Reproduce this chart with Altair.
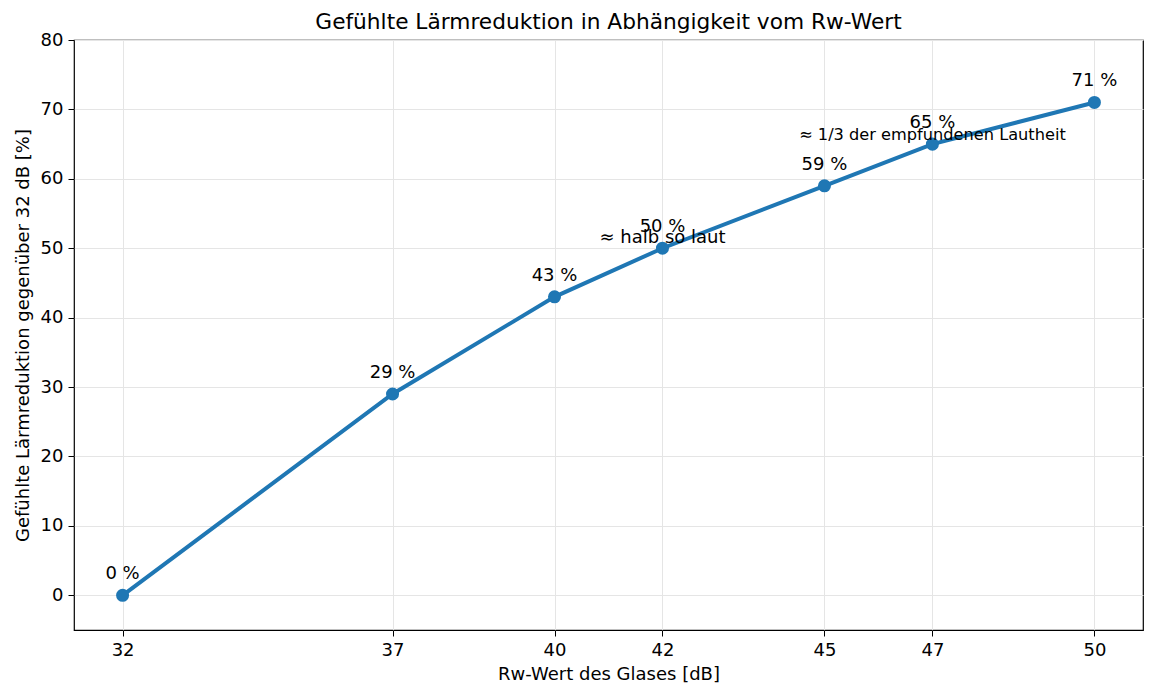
import altair as alt
import pandas as pd

rw = [32, 37, 40, 42, 45, 47, 50]
reduction = [0, 29, 43, 50, 59, 65, 71]
labels = [f"{v} %" for v in reduction]

note_x = [42, 47]
note_y = [50, 65]
note_text = ["≈ halb so laut", "≈ 1/3 der empfundenen Lautheit"]
note_size = [18, 16.2]

df = pd.DataFrame({"rw": rw, "red": reduction, "label": labels})
notes = pd.DataFrame({"x": note_x, "y": note_y, "t": note_text, "s": note_size})

FONT = "DejaVu Sans"
FS = 18
xs = alt.Scale(domain=[31.1, 50.9], nice=False, zero=False)
ys = alt.Scale(domain=[-5, 80], nice=False, zero=False)

xaxis = alt.Axis(values=rw, title="Rw-Wert des Glases [dB]", format="d",
                 grid=True, gridColor="#e5e5e5", gridWidth=1,
                 domain=False, tickColor="black", tickSize=6, labelPadding=5,
                 labelFontSize=FS, labelColor="black", titleFontSize=FS,
                 titleColor="black", titleFontWeight="normal", titlePadding=6,
                 labelFont=FONT, titleFont=FONT)
yaxis = alt.Axis(values=list(range(0, 81, 10)),
                 title="Gefühlte Lärmreduktion gegenüber 32 dB [%]",
                 grid=True, gridColor="#e5e5e5", gridWidth=1,
                 domain=False, tickColor="black", tickSize=6, labelPadding=5,
                 labelFontSize=FS, labelColor="black", titleFontSize=FS,
                 titleColor="black", titleFontWeight="normal", titlePadding=8,
                 labelFont=FONT, titleFont=FONT)

base = alt.Chart(df)
line = base.mark_line(color="#1f77b4", strokeWidth=4).encode(
    x=alt.X("rw:Q", scale=xs, axis=xaxis),
    y=alt.Y("red:Q", scale=ys, axis=yaxis),
)
pts = base.mark_circle(color="#1f77b4", size=170, opacity=1).encode(
    x=alt.X("rw:Q", scale=xs), y=alt.Y("red:Q", scale=ys)
)
txt = base.mark_text(font=FONT, fontSize=FS, color="black", baseline="bottom",
                     dy=-12).encode(
    x=alt.X("rw:Q", scale=xs), y=alt.Y("red:Q", scale=ys), text="label:N"
)
note = alt.Chart(notes).mark_text(font=FONT, color="black", baseline="bottom",
                                  dy=-1).encode(
    x=alt.X("x:Q", scale=xs), y=alt.Y("y:Q", scale=ys), text="t:N",
    size=alt.Size("s:Q", scale=None, legend=None)
)

chart = alt.layer(line, pts, txt, note).properties(
    width=1069, height=590,
    title=alt.TitleParams("Gefühlte Lärmreduktion in Abhängigkeit vom Rw-Wert",
                          font=FONT, fontSize=21.7, fontWeight="normal",
                          color="black", offset=-3),
    autosize=alt.AutoSizeParams(type="none"),
    padding={"left": 66, "top": 32, "right": 6, "bottom": 62},
).configure_view(stroke="black", strokeWidth=1.2)

chart.save("out.html", embed_options={"renderer": "svg", "actions": False})
